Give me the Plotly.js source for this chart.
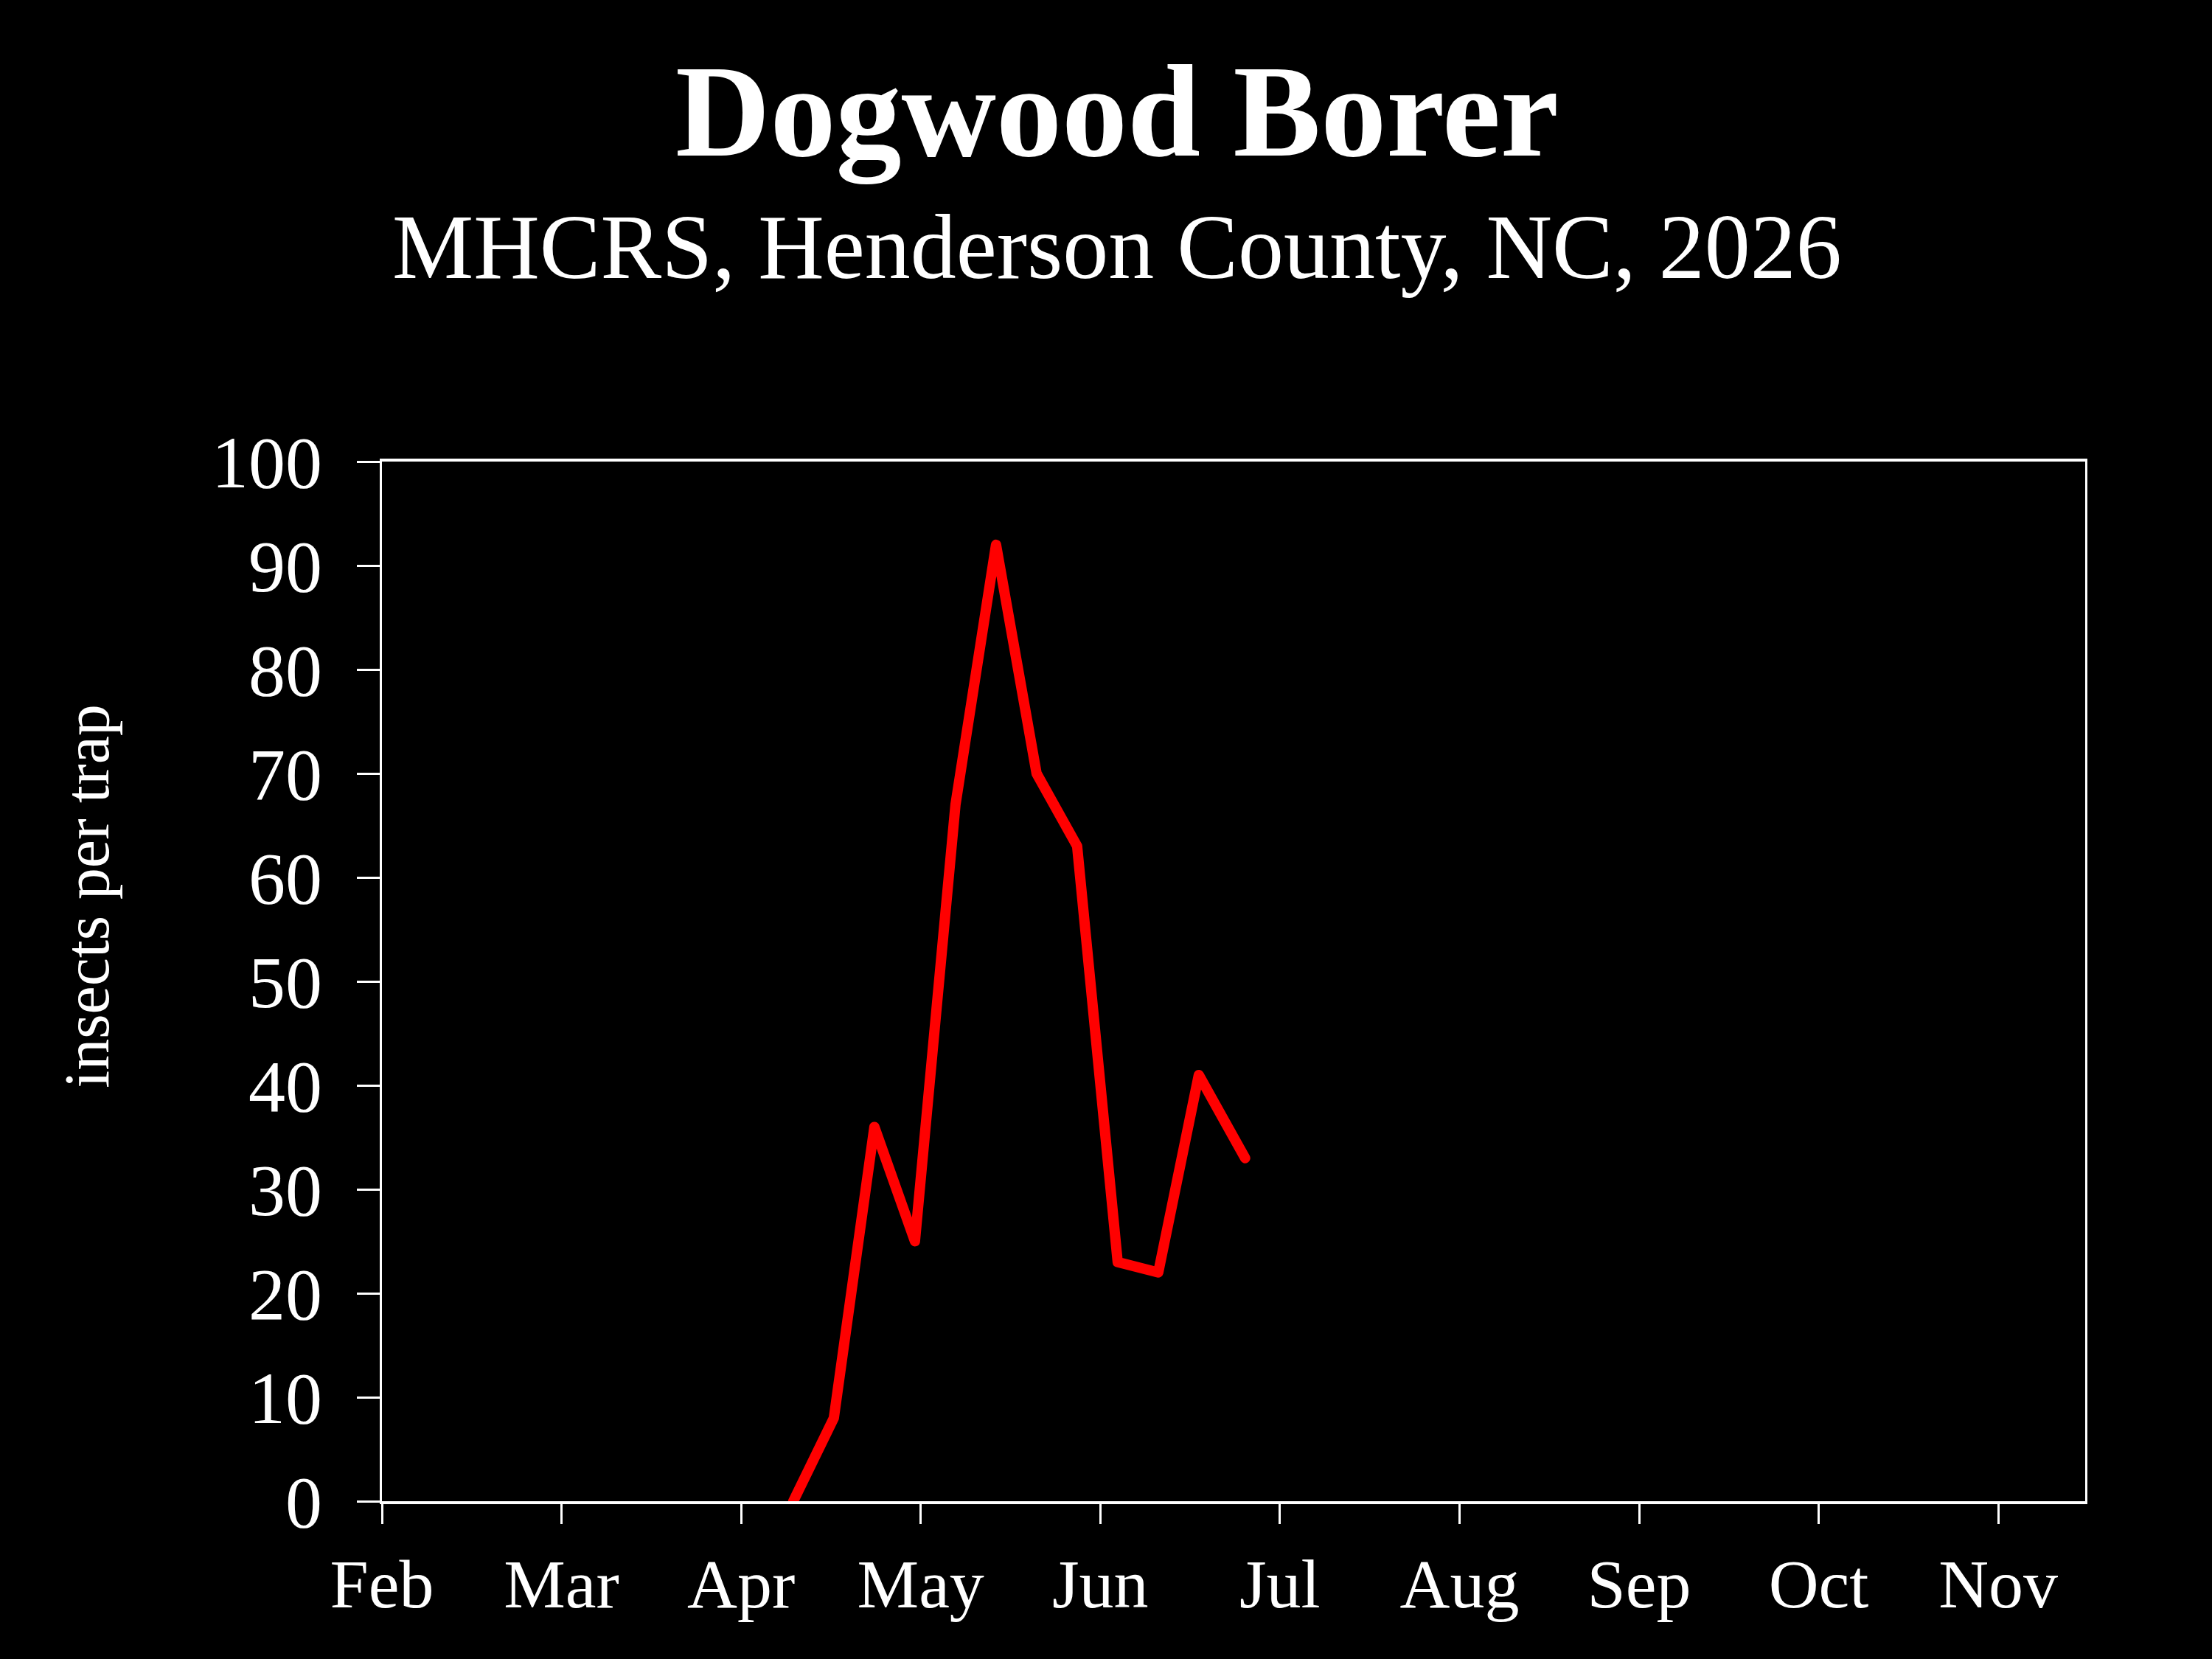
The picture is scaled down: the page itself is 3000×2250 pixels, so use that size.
<!DOCTYPE html>
<html>
<head>
<meta charset="utf-8">
<script src="https://cdn.plot.ly/plotly-3.0.1.min.js"></script>
<style>
  html, body { margin: 0; padding: 0; background: #000; }
  #chart { width: 3000px; height: 2250px; }
  /* rounded joins like the original line */
  #chart .scatterlayer path.js-line { stroke-linejoin: round !important; stroke-linecap: round !important; }
</style>
</head>
<body>
<div id="chart"></div>
<script>
// weekly trap counts
var sampleDates = ['2026-04-13', '2026-04-20', '2026-04-27', '2026-05-04', '2026-05-11', '2026-05-18',
                   '2026-05-25', '2026-06-01', '2026-06-08', '2026-06-15', '2026-06-22', '2026-06-30'];
var insectsPerTrap = [0, 8, 36, 25, 67, 92, 70, 63, 23, 22, 41, 33];

// axis ticks sit 31 days apart, labelled by month
var tickDates = ['2026-02-01', '2026-03-04', '2026-04-04', '2026-05-05', '2026-06-05',
                 '2026-07-06', '2026-08-06', '2026-09-06', '2026-10-07', '2026-11-07'];
var monthLabels = ['Feb', 'Mar', 'Apr', 'May', 'Jun', 'Jul', 'Aug', 'Sep', 'Oct', 'Nov'];
var yTicks = [0, 10, 20, 30, 40, 50, 60, 70, 80, 90, 100];

var serif = '"Liberation Serif", "DejaVu Serif", serif';

var data = [{
  x: sampleDates,
  y: insectsPerTrap,
  type: 'scatter',
  mode: 'lines',
  line: {color: '#ff0000', width: 14},
  hoverinfo: 'x+y'
}];

var layout = {
  width: 3000,
  height: 2250,
  paper_bgcolor: '#000000',
  plot_bgcolor: '#000000',
  showlegend: false,
  margin: {l: 518, r: 172, t: 626, b: 214},
  font: {family: serif, color: '#ffffff'},
  title: {
    text: '<b>Dogwood Borer</b>',
    font: {family: serif, size: 178, color: '#ffffff'},
    xref: 'container',
    yref: 'container',
    x: 0.505,
    y: 0.934,
    xanchor: 'center',
    yanchor: 'middle'
  },
  xaxis: {
    type: 'date',
    range: ['2026-02-01', '2026-11-22'],
    tickmode: 'array',
    tickvals: tickDates,
    ticktext: monthLabels,
    ticks: 'outside',
    ticklen: 27,
    tickwidth: 3,
    tickcolor: '#ffffff',
    ticklabelstandoff: 0,
    tickfont: {family: serif, size: 94, color: '#ffffff'},
    showline: true,
    linecolor: '#ffffff',
    linewidth: 4,
    mirror: true,
    showgrid: false,
    zeroline: false,
    fixedrange: true
  },
  yaxis: {
    range: [0, 100],
    tickmode: 'array',
    tickvals: yTicks,
    ticks: 'outside',
    ticklen: 31,
    tickwidth: 3,
    tickcolor: '#ffffff',
    ticklabelstandoff: 27,
    tickfont: {family: serif, size: 100, color: '#ffffff'},
    showline: true,
    linecolor: '#ffffff',
    linewidth: 3,
    mirror: true,
    showgrid: false,
    zeroline: false,
    fixedrange: true
  },
  annotations: [
    {
      text: 'MHCRS, Henderson County, NC, 2026',
      xref: 'paper', yref: 'paper',
      x: 0.4316, y: 1.2057,
      xanchor: 'center', yanchor: 'middle',
      showarrow: false,
      font: {family: serif, size: 124, color: '#ffffff'}
    },
    {
      text: 'insects per trap',
      xref: 'paper', yref: 'paper',
      x: -0.173, y: 0.582,
      xanchor: 'center', yanchor: 'middle',
      textangle: -90,
      showarrow: false,
      font: {family: serif, size: 86, color: '#ffffff'}
    }
  ]
};

Plotly.newPlot('chart', data, layout, {displayModeBar: false, staticPlot: true});
</script>
</body>
</html>
